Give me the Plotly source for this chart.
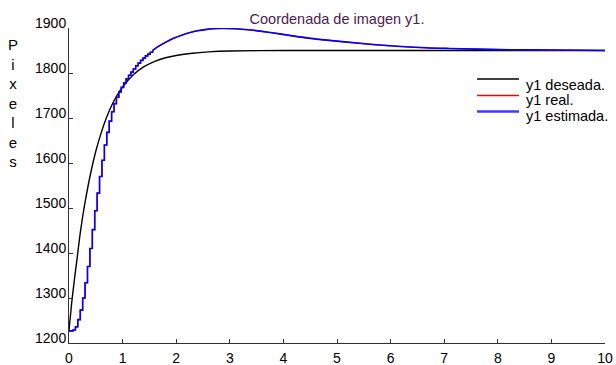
import plotly.graph_objects as go

# ---- data ----
# desired trajectory y1 (smooth)
t_des = [0, 0.05, 0.1, 0.15, 0.2, 0.25, 0.3, 0.4, 0.5, 0.6, 0.7, 0.8, 0.9, 1.0,
         1.2, 1.4, 1.6, 1.8, 2.0, 2.3, 2.6, 3.0, 4.0, 5.0, 7.0, 10.0]
y_des = [1228, 1289, 1340, 1387, 1436, 1477, 1513, 1575, 1626, 1667, 1701, 1729, 1751, 1769,
         1796, 1814, 1826, 1834, 1839, 1844, 1847, 1849, 1850, 1850, 1850, 1850]

# sampled (staircase) part of real / estimated y1
t_step = [0, 0.075, 0.12, 0.165, 0.21, 0.255, 0.30, 0.345, 0.39, 0.435, 0.48, 0.525,
          0.57, 0.615, 0.66, 0.705, 0.75, 0.795, 0.84, 0.885, 0.93, 0.975, 1.02, 1.065,
          1.11, 1.155, 1.2, 1.245, 1.29, 1.335, 1.38, 1.425, 1.47, 1.515, 1.56]
y_est_step = [1227, 1229, 1236, 1252, 1273, 1300, 1334, 1370, 1410, 1452, 1494, 1533,
              1570, 1606, 1640, 1668, 1693, 1714, 1732, 1746, 1758, 1768, 1778, 1787,
              1795, 1802, 1809, 1816, 1822, 1828, 1833, 1838, 1842, 1846, 1850]
y_real_step = list(y_est_step)

# later (visually smooth) part of real / estimated y1
t_tail = [1.56, 1.64, 1.8, 1.95, 2.1, 2.26, 2.4, 2.57, 2.75, 2.9, 3.1, 3.35, 3.6,
          3.9, 4.2, 4.5, 4.81, 5.43, 6.05, 6.67, 7.1, 8.04, 9.0, 10.0]
y_est_tail = [1850, 1857, 1868, 1877, 1884, 1890, 1894, 1897, 1898.8, 1899, 1898.3, 1896, 1892.5,
              1887.5, 1882, 1877, 1873, 1866, 1860, 1856, 1854.5, 1852, 1851, 1850]
y_real_tail = list(y_est_tail)

x_ticks = [0, 1, 2, 3, 4, 5, 6, 7, 8, 9, 10]
y_ticks = [1200, 1300, 1400, 1500, 1600, 1700, 1800, 1900]

legend_names = ["y1 deseada.", "y1 real.", "y1 estimada."]
legend_colors = ["black", "#ff0000", "#3c3cff"]
legend_widths = [1.5, 1.6, 2.4]

FONT = "Liberation Sans, Arial, sans-serif"

fig = go.Figure()

fig.add_trace(go.Scatter(x=t_des, y=y_des, mode="lines", name=legend_names[0],
                         line=dict(color="black", width=1.4, shape="spline", smoothing=0.6)))
fig.add_trace(go.Scatter(x=t_step, y=y_real_step, mode="lines", name=legend_names[1],
                         line=dict(color="#ff0000", width=1.2, shape="hv")))
fig.add_trace(go.Scatter(x=t_tail, y=y_real_tail, mode="lines", name=legend_names[1],
                         line=dict(color="#ff0000", width=1.2, shape="spline", smoothing=0.8)))
fig.add_trace(go.Scatter(x=t_step, y=y_est_step, mode="lines", name=legend_names[2],
                         line=dict(color="#0000ff", width=1.6, shape="hv")))
fig.add_trace(go.Scatter(x=t_tail, y=y_est_tail, mode="lines", name=legend_names[2],
                         line=dict(color="#0000ff", width=1.6, shape="spline", smoothing=0.8)))

axis_common = dict(showline=True, linecolor="#333333", linewidth=1, ticks="inside",
                   ticklen=4, tickcolor="#333333", showgrid=False, zeroline=False,
                   automargin=False,
                   tickfont=dict(family=FONT, size=14, color="black"))

fig.update_xaxes(range=[0, 10], tickvals=x_ticks, ticktext=[str(v) for v in x_ticks],
                 ticklabelstandoff=2, **axis_common)
fig.update_yaxes(range=[1200, 1900], tickvals=y_ticks, ticktext=[str(v) for v in y_ticks],
                 ticklabelshift=-5, ticklabelstandoff=-1, **axis_common)

# hand-drawn legend (line samples + labels) in pixel-matched paper coordinates
PL, PT, PW, PH = 69, 28, 536, 315
def px_x(px):
    return (px - PL) / PW
def px_y(py):
    return 1 - (py - PT) / PH

shapes = []
annotations = []
line_y = [79, 95.5, 111.5]
text_y = [85, 100.5, 116]
for i, name in enumerate(legend_names):
    shapes.append(dict(type="line", xref="paper", yref="paper",
                       x0=px_x(477), x1=px_x(519), y0=px_y(line_y[i]), y1=px_y(line_y[i]),
                       line=dict(color=legend_colors[i], width=legend_widths[i])))
    annotations.append(dict(text=name, xref="paper", yref="paper",
                            x=px_x(524), y=px_y(text_y[i]), xanchor="left", yanchor="middle",
                            showarrow=False, font=dict(family=FONT, size=14.5, color="black")))

annotations.append(dict(text="P<br>i<br>x<br>e<br>l<br>e<br>s", xref="paper", yref="paper",
                        x=px_x(13), y=px_y(103), xanchor="center", yanchor="middle",
                        showarrow=False, align="center",
                        font=dict(family=FONT, size=15, color="black")))

fig.update_layout(
    width=616, height=365,
    margin=dict(l=PL, r=616 - PL - PW, t=PT, b=365 - PT - PH),
    paper_bgcolor="white", plot_bgcolor="white",
    font=dict(family=FONT, size=14, color="black"),
    title=dict(text="Coordenada de imagen y1.", x=0.5, xref="paper", xanchor="center",
               y=1 - 19 / 365, yref="container", yanchor="middle", pad=dict(t=0, b=0),
               font=dict(family=FONT, size=14.5, color="#4d1a4d")),
    shapes=shapes,
    annotations=annotations,
    showlegend=False,
)

fig.write_html("out.html", config={"displayModeBar": False},
               post_script="document.body.style.margin='0';document.body.style.overflow='hidden';")
